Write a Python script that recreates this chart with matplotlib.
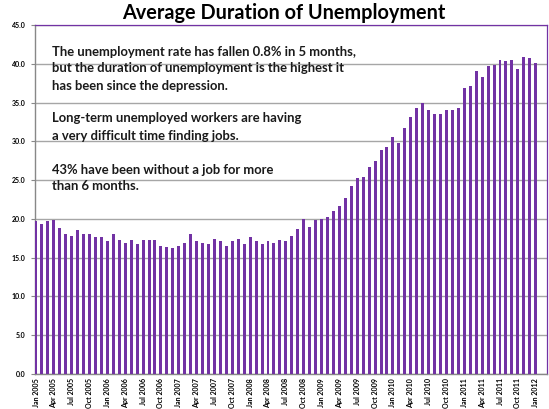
import numpy as np
import matplotlib
matplotlib.use("Agg")
import matplotlib.pyplot as plt

# ---- data ----
values = [
    19.7, 19.3, 19.7, 19.8, 18.8, 18.1, 17.8, 18.6, 18.1, 18.1, 17.7, 17.7,   # 2005
    17.1, 18.0, 17.3, 16.9, 17.3, 16.8, 17.3, 17.3, 17.3, 16.5, 16.4, 16.3,   # 2006
    16.5, 16.9, 18.0, 17.2, 16.9, 16.7, 17.4, 17.2, 16.5, 17.2, 17.4, 16.8,   # 2007
    17.7, 17.1, 16.7, 17.1, 16.9, 17.3, 17.1, 17.8, 18.7, 20.0, 18.9, 19.9,   # 2008
    20.0, 20.2, 21.0, 21.7, 22.7, 24.2, 25.3, 25.4, 26.7, 27.4, 28.9, 29.3,   # 2009
    30.6, 29.8, 31.7, 33.2, 34.3, 34.9, 34.0, 33.5, 33.5, 34.0, 34.0, 34.3,   # 2010
    36.9, 37.1, 39.1, 38.3, 39.7, 39.9, 40.5, 40.3, 40.5, 39.3, 40.9, 40.8,   # 2011
    40.1,                                                                     # 2012
]
tick_labels = [
    "Jan 2005", "Apr 2005", "Jul 2005", "Oct 2005",
    "Jan 2006", "Apr 2006", "Jul 2006", "Oct 2006",
    "Jan 2007", "Apr 2007", "Jul 2007", "Oct 2007",
    "Jan 2008", "Apr 2008", "Jul 2008", "Oct 2008",
    "Jan 2009", "Apr 2009", "Jul 2009", "Oct 2009",
    "Jan 2010", "Apr 2010", "Jul 2010", "Oct 2010",
    "Jan 2011", "Apr 2011", "Jul 2011", "Oct 2011",
    "Jan 2012",
]
y_ticks = [0, 5, 10, 15, 20, 25, 30, 35, 40, 45]
title = "Average Duration of Unemployment"
note_lines = [
    "The unemployment rate has fallen 0.8% in 5 months,",
    "but the duration of unemployment is the highest it",
    "has been since the depression.",
    "Long-term unemployed workers are having",
    "a very difficult time finding jobs.",
    "43% have been without a job for more",
    "than 6 months.",
]

# ---- style ----
plt.rcParams['font.family'] = ['Lato', 'DejaVu Sans']
purple = '#7232a4'
grid_c = '#a6a6a6'
W, H = 549, 409

fig = plt.figure(figsize=(W / 100, H / 100), dpi=100)
L, R, T, B = 35, 547, 25, 374
ax = fig.add_axes([L / W, 1 - B / H, (R - L) / W, (B - T) / H])

x = np.arange(len(values))
ax.bar(x, values, width=0.5, color=purple, zorder=3)

ax.set_ylim(0, 45)
ax.set_xlim(-0.17, 85.9)
ax.set_yticks(y_ticks)
ax.set_yticklabels([f"{v:.1f}" for v in y_ticks], fontsize=5, fontweight='bold')
ax.yaxis.grid(True, color=grid_c, linewidth=1.0, zorder=0)
ax.set_axisbelow(True)

ax.set_xticks(x[::3])
ax.set_xticklabels(tick_labels, rotation=90, fontsize=5.1, fontweight='bold',
                   va='top', ha='center')
ax.tick_params(axis='x', length=0, pad=3)
ax.tick_params(axis='y', length=3, color='#888888', pad=4)

for s in ['top', 'right']:
    ax.spines[s].set_color(purple)
    ax.spines[s].set_linewidth(0.9)
ax.spines['left'].set_color('#888888')
ax.spines['bottom'].set_color('#888888')
ax.spines['left'].set_linewidth(1.0)
ax.spines['bottom'].set_linewidth(1.0)

fig.text(284 / W, 1 - 13 / H, title, ha='center', va='center',
         fontsize=14.3, fontweight='bold')

line_y = [51.5, 68.5, 86, 118, 136, 170.5, 186]
for txt, yy in zip(note_lines, line_y):
    fig.text(52.5 / W, 1 - yy / H, txt, ha='left', va='center',
             fontsize=9.4, fontweight='bold', color='#1a1a1a')

fig.savefig("out.png", dpi=100)
